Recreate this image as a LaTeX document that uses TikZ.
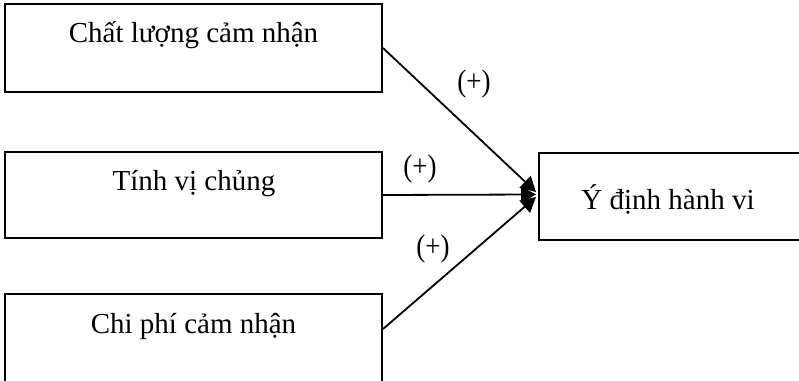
\documentclass[tikz,border=0pt]{standalone}
\usepackage{fontspec}
\setmainfont{Liberation Serif}
\usetikzlibrary{arrows.meta,calc}
\begin{document}
\begin{tikzpicture}[x=1pt,y=1pt,
  box/.style={draw=black,line width=2pt,rectangle,inner sep=0pt},
  boxtext/.style={anchor=base,inner sep=0pt,font=\fontsize{29}{34}\selectfont},
  sign/.style={inner sep=0pt,font=\fontsize{27}{32}\selectfont},
  link/.style={line width=1.8pt,-{Triangle[length=15pt,width=16pt]}}]
\useasboundingbox (0,0) rectangle (799,380);
\clip (0,0) rectangle (799,380);
% factor boxes
\node[box,minimum width=377pt,minimum height=88pt] (b1) at (193.5,332) {};
\node[box,minimum width=377pt,minimum height=86pt] (b2) at (193.5,185) {};
\node[box,minimum width=377pt,minimum height=106pt] (b3) at (193.5,33) {};
% outcome box
\node[box,minimum width=291pt,minimum height=87pt] (b4) at (684.5,183.5) {};
% box captions
\node[boxtext] (t1) at (193.5,337) {Chất lượng cảm nhận};
\node[boxtext] (t2) at (194,189) {Tính vị chủng};
\node[boxtext] (t3) at (193.5,47) {Chi phí cảm nhận};
\node[boxtext] (t4) at (668,170) {Ý định hành vi};
% connectors
\coordinate (s3) at ($(b3.north east)+(0,-36)$);
\coordinate (e1) at ($(b4.west)+(-2,4.5)$);
\coordinate (e2) at ($(b4.west)+(-2,2)$);
\coordinate (e3) at ($(b4.west)+(-2,-0.5)$);
\draw[link] (b1.east) -- (e1);
\draw[link] (b2.east) -- (e2);
\draw[link] (s3) -- (e3);
% signs
\node[sign] (p1) at (474,296) {\scalebox{1}[1.15]{(+)}};
\node[sign] (p2) at (420,211) {\scalebox{1}[1.15]{(+)}};
\node[sign] (p3) at (433,131) {\scalebox{1}[1.15]{(+)}};
\end{tikzpicture}
\end{document}
